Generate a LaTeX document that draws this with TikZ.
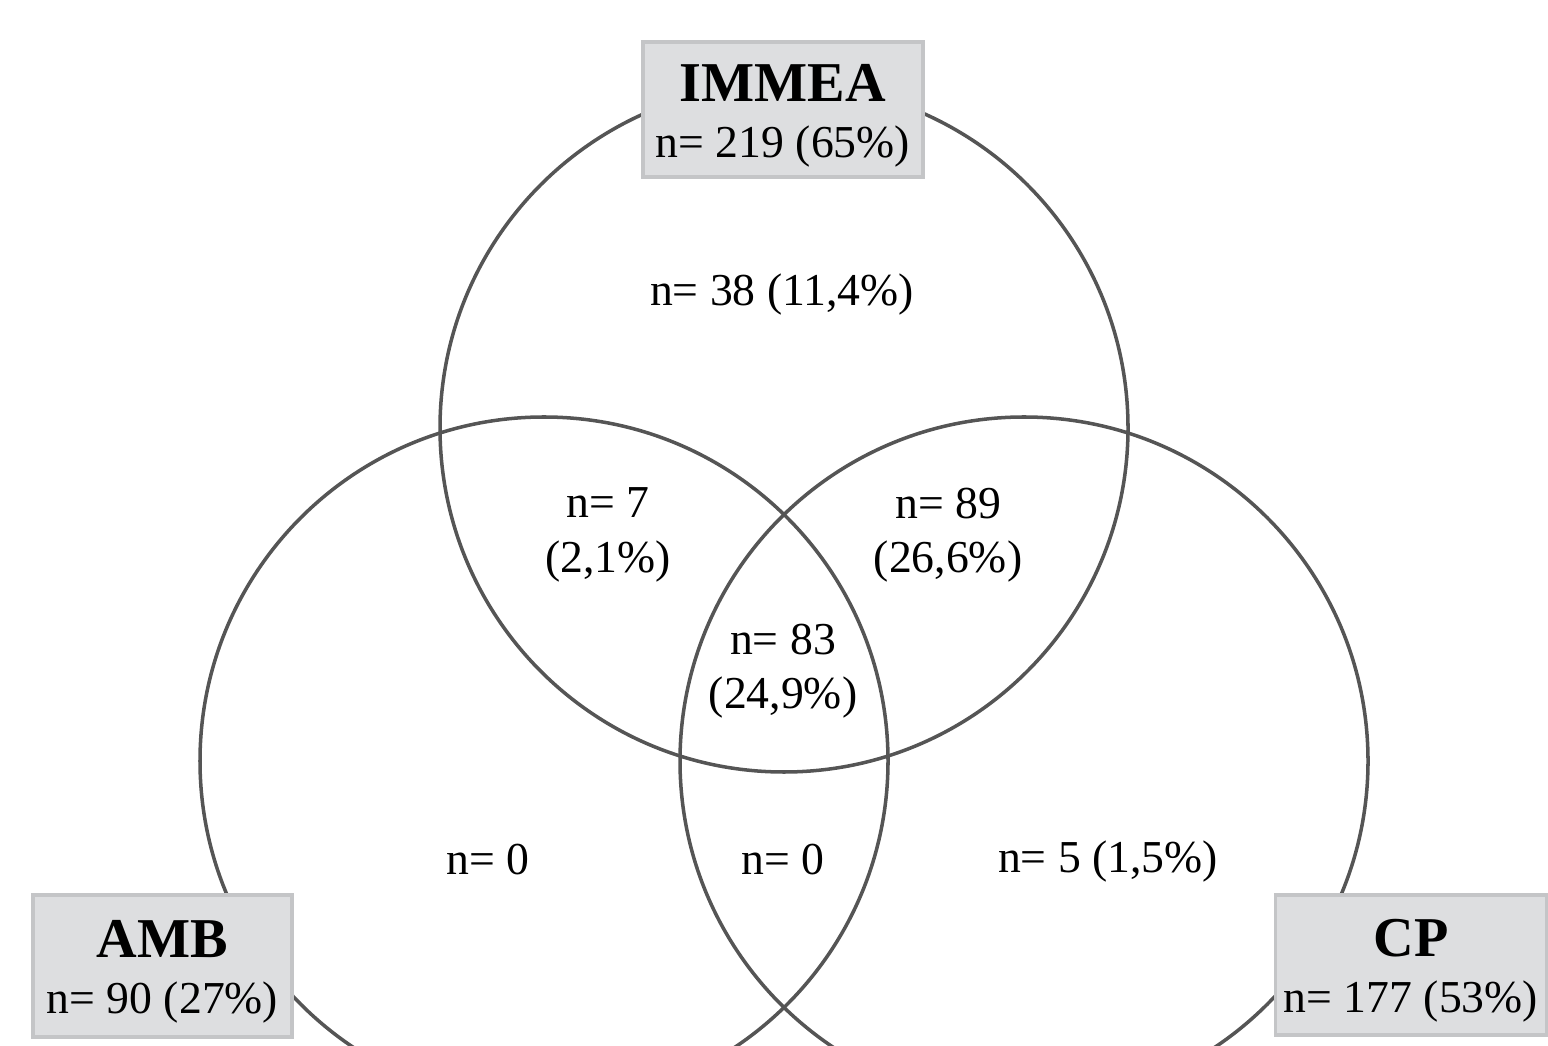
\documentclass[tikz,border=0pt]{standalone}
\usepackage{fontspec}
\setmainfont{Liberation Serif}
\definecolor{boxfill}{RGB}{221,222,224}
\definecolor{boxline}{RGB}{196,197,199}
\definecolor{setline}{RGB}{85,85,85}
\tikzset{
  setcircle/.style={circle, draw=setline, line width=1pt, minimum size=6.88cm, inner sep=0pt},
  setbox/.style={draw=boxline, fill=boxfill, line width=1pt, align=center, inner sep=0pt},
  count/.style={align=center, font=\fontsize{13}{15.5}\selectfont}
}
\newcommand{\settitle}[2]{{\fontsize{16}{18}\selectfont\bfseries\rule{0pt}{14pt}#1}\\[4pt]{\fontsize{13}{15}\selectfont #2}}
\begin{document}
\begin{tikzpicture}
	  \useasboundingbox (0,0) rectangle (15.48,10.45);
	  \clip (0,0) rectangle (15.48,10.45);

	  % the three sets
	  \node[setcircle] (immea) at (7.84,6.17) {};
	  \node[setcircle] (amb) at (5.44,2.84) {};
	  \node[setcircle] (cp) at (10.24,2.84) {};

	  % region counts
	  \node[count] (onlyimmea) at (7.82,7.50) {n= 38 (11,4\%)};
	  \node[count] (immeaamb) at (6.08,5.10) {n= 7\\(2,1\%)};
	  \node[count] (immeacp) at (9.48,5.10) {n= 89\\(26,6\%)};
	  \node[count] (allthree) at (7.83,3.74) {n= 83\\(24,9\%)};
	  \node[count] (onlyamb) at (4.88,1.85) {n= 0};
	  \node[count] (ambcp) at (7.83,1.85) {n= 0};
	  \node[count] (onlycp) at (11.08,1.83) {n= 5 (1,5\%)};

	  % set labels
	  \node[setbox, minimum width=2.80cm, minimum height=1.35cm] (immeabox) at (7.83,9.355) {\settitle{IMMEA}{n= 219 (65\%)}};
	  \node[setbox, minimum width=2.59cm, minimum height=1.42cm] (ambbox) at (1.625,0.79) {\settitle{AMB}{n= 90 (27\%)}};
	  \node[setbox, minimum width=2.71cm, minimum height=1.40cm] (cpbox) at (14.11,0.80) {\settitle{CP}{n= 177 (53\%)}};
	\end{tikzpicture}
\end{document}
